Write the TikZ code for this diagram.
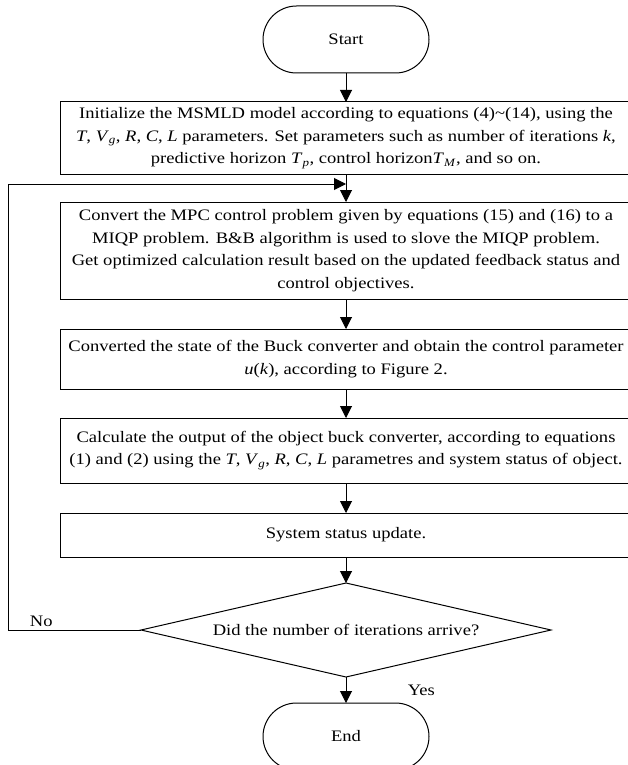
\documentclass[tikz,border=0pt]{standalone}
\usepackage{fontspec}
\setmainfont{Liberation Serif}[FakeStretch=1.16]
\usepackage{tikz}
\usetikzlibrary{shapes.geometric, arrows.meta, positioning}
\tikzstyle{arrow} = [line width=1pt,->,>={Triangle[length=12pt,width=12pt]}]
\tikzstyle{process} = [rectangle, draw=black, line width=1pt, outer sep=0pt, minimum width=572pt, align=center, inner sep=2pt]
\tikzstyle{terminal} = [rectangle, rounded corners=33.5pt, draw=black, line width=1pt, outer sep=0pt, minimum width=166pt, minimum height=67pt]
\tikzstyle{decision} = [diamond, draw=black, line width=1pt, outer sep=0pt, aspect=4.36, minimum width=410pt, minimum height=94pt, inner sep=0pt]
\newcommand{\symsub}[2]{\textit{#1}\textsubscript{\textit{#2}}}

\begin{document}
\begin{tikzpicture}[x=1pt, y=-1pt, font=\fontsize{16}{22.5}\selectfont]
        \useasboundingbox (0,0) rectangle (627,765);
        % Nodes
        \node (start) [terminal] at (346,39.5) {Start};
        \node (init) [process, minimum height=72pt, below=29pt of start] {Initialize the MSMLD model according to equations (4)\textasciitilde(14), using the\\
            \textit{T}, \symsub{V}{g}, \textit{R}, \textit{C}, \textit{L} parameters. Set parameters such as number of iterations \textit{k},\\
            predictive horizon \symsub{T}{p}, control horizon\symsub{T}{M}, and so on.};
        \node (mpc) [process, minimum height=97pt, below=28pt of init] {Convert the MPC control problem given by equations (15) and (16) to a\\
            MIQP problem. B\&B algorithm is used to slove the MIQP problem.\\
            Get optimized calculation result based on the updated feedback status and\\
            control objectives.};
        \node (state) [process, minimum height=60pt, below=30pt of mpc] {Converted the state of the Buck converter and obtain the control parameter\\
            \textit{u}(\textit{k}), according to Figure 2.};
        \node (calc) [process, minimum height=65pt, below=29pt of state] {Calculate the output of the object buck converter, according to equations\\
            (1) and (2) using the \textit{T}, \symsub{V}{g}, \textit{R}, \textit{C}, \textit{L} parametres and system status of object.};
        \node (update) [process, minimum height=44pt, below=30pt of calc] {System status update.};
        \node (check) [decision, below=26pt of update] {Did the number of iterations arrive?};
        \node (end) [terminal, below=26pt of check] {End};
        \coordinate (merge) at ([yshift=-10pt]init.south);

        % Arrows
        \draw [arrow] (start) -- (init);
        \draw [arrow] (init) -- (mpc);
        \draw [arrow] (mpc) -- (state);
        \draw [arrow] (state) -- (calc);
        \draw [arrow] (calc) -- (update);
        \draw [arrow] (update) -- (check);
        \draw [arrow] (check) -- node[right=58pt] {Yes} (end);

        % Loop back when the iterations are not done
        \draw [arrow] (check.west) -- node[pos=0.75, above] {No} ++(-133,0) |- (merge);
    \end{tikzpicture}
\end{document}
